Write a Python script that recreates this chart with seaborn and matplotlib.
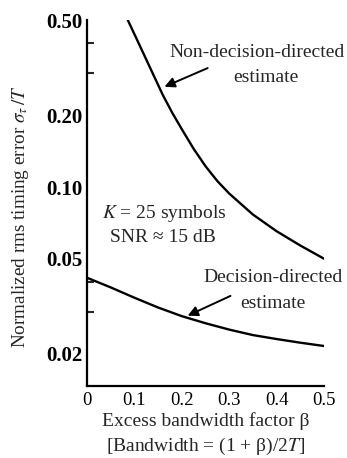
import numpy as np
import pandas as pd
import matplotlib
matplotlib.use("Agg")
import matplotlib.pyplot as plt
import seaborn as sns

# values
beta_ndd = [0.086, 0.10, 0.12, 0.14, 0.16, 0.18, 0.20, 0.225, 0.25, 0.275,
            0.30, 0.35, 0.40, 0.45, 0.50]
err_ndd = [0.50, 0.4365, 0.359, 0.295, 0.2427, 0.2042, 0.1746, 0.1445, 0.1222, 0.1059,
           0.0939, 0.0767, 0.0653, 0.0569, 0.0501]

beta_dd = [0.0, 0.05, 0.1, 0.15, 0.2, 0.25, 0.3, 0.35, 0.4, 0.45, 0.5]
err_dd = [0.0417, 0.0380, 0.0344, 0.0313, 0.0288, 0.0269, 0.0253, 0.0240,
          0.0231, 0.0223, 0.0216]

yticks = [0.02, 0.05, 0.10, 0.20, 0.50]
yticklabels = ["0.02", "0.05", "0.10", "0.20", "0.50"]
yminor = [0.03, 0.04, 0.3, 0.4]
xticks = [0, 0.1, 0.2, 0.3, 0.4, 0.5]
xticklabels = ["0", "0.1", "0.2", "0.3", "0.4", "0.5"]

sns.set_style("white")
plt.rcParams["font.family"] = ["Liberation Serif", "DejaVu Serif"]
plt.rcParams["mathtext.fontset"] = "stix"

fig = plt.figure(figsize=(3.47, 4.58), dpi=100)
ax = fig.add_axes([0.2507, 0.1572, 0.683, 0.7991])

ndd = pd.DataFrame({"beta": beta_ndd, "err": err_ndd})
dd = pd.DataFrame({"beta": beta_dd, "err": err_dd})
sns.lineplot(data=ndd, x="beta", y="err", ax=ax, color="black", lw=1.7)
sns.lineplot(data=dd, x="beta", y="err", ax=ax, color="black", lw=1.7)

ax.set_yscale("log")
ax.set_xlim(0, 0.5)
ax.set_ylim(0.01469, 0.5)
ax.set_yticks(yticks)
ax.set_yticklabels(yticklabels, fontsize=15, fontweight="bold")
ax.set_yticks(yminor, minor=True)
ax.set_yticklabels([], minor=True)
ax.set_xticks(xticks)
ax.set_xticklabels(xticklabels, fontsize=13.5)

for s in ["top", "right"]:
    ax.spines[s].set_visible(False)
for s in ["left", "bottom"]:
    ax.spines[s].set_linewidth(1.6)
    ax.spines[s].set_color("black")
ax.tick_params(axis="both", which="major", direction="in", length=6, width=1.6, colors="black")
ax.tick_params(axis="y", which="minor", direction="in", length=5, width=1.5, left=True)
ax.tick_params(axis="x", pad=4)

ax.set_xlabel("Excess bandwidth factor β\n[Bandwidth = (1 + β)/2$T$]", fontsize=14,
              linespacing=1.4)
ax.xaxis.set_label_coords(0.5, -0.072, transform=ax.transAxes)
ax.xaxis.label.set_va("top")
ax.set_ylabel(r"Normalized rms timing error $\sigma_\tau\,/T$", fontsize=13.8, va="center")
ax.yaxis.set_label_coords(-0.28, 0.462)

ax.text(0.358, 0.367, "Non-decision-directed", fontsize=14, ha="center", va="center")
ax.text(0.377, 0.286, "estimate", fontsize=14, ha="center", va="center")
ax.annotate("", xy=(0.158, 0.26), xytext=(0.26, 0.318),
            arrowprops=dict(arrowstyle="-|>", color="black", lw=1.4, mutation_scale=15))

ax.text(0.162, 0.0775, "$K$ = 25 symbols", fontsize=14, ha="center", va="center")
ax.text(0.160, 0.0614, "SNR ≈ 15 dB", fontsize=14, ha="center", va="center")

ax.text(0.392, 0.0417, "Decision-directed", fontsize=14, ha="center", va="center")
ax.text(0.392, 0.0325, "estimate", fontsize=14, ha="center", va="center")
ax.annotate("", xy=(0.207, 0.0286), xytext=(0.308, 0.0354),
            arrowprops=dict(arrowstyle="-|>", color="black", lw=1.4, mutation_scale=15))

fig.savefig("out.png", dpi=100)
